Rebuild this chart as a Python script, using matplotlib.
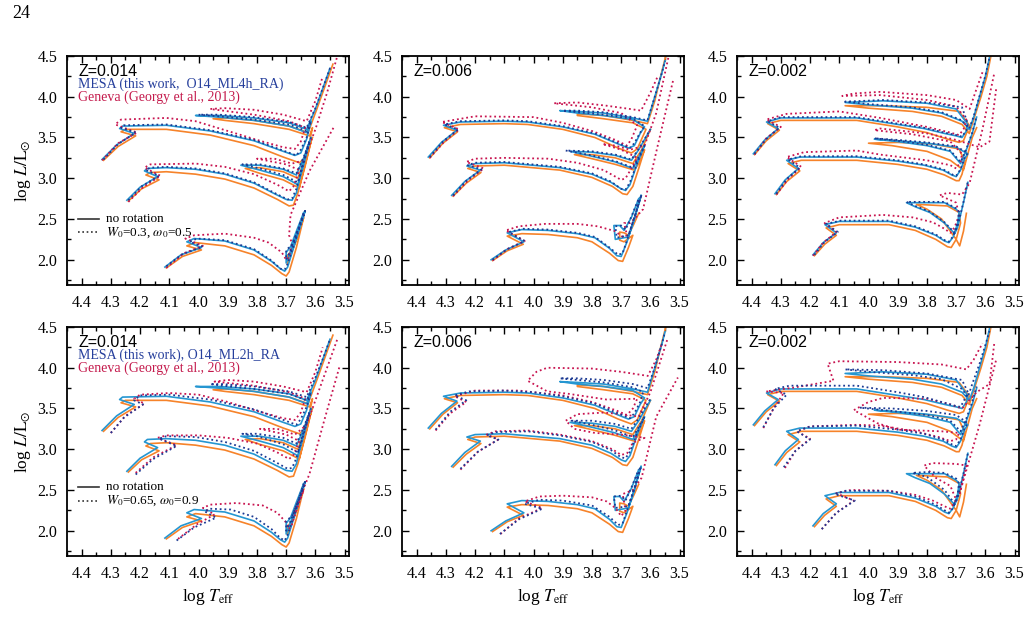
import matplotlib.pyplot as plt
from matplotlib.ticker import MultipleLocator

plt.rcParams['font.family'] = ['Liberation Serif', 'DejaVu Serif']
plt.rcParams['mathtext.fontset'] = 'stix'

# ---------------- tracks: (log Teff, log L) ----------------
# each series holds the 3, 5 and 7 Msun tracks

# Z = 0.014
MESA_Z014 = [
    [(4.115,1.91),(4.06,2.06),(3.99,2.15),(4.04,2.22),(4.015,2.26),(3.91,2.23),(3.81,2.12),(3.75,1.98),(3.72,1.89),(3.705,1.86),(3.695,1.91),(3.67,2.20),(3.635,2.60),(3.66,2.35),(3.685,2.10),(3.70,1.96),(3.70,2.09),(3.685,2.16),(3.665,2.35),(3.64,2.58)],
    [(4.245,2.73),(4.20,2.89),(4.14,3.02),(4.185,3.09),(4.175,3.12),(4.11,3.13),(4.01,3.11),(3.91,3.05),(3.81,2.94),(3.74,2.81),(3.70,2.74),(3.68,2.73),(3.665,2.82),(3.645,3.15),(3.62,3.45),(3.645,3.10),(3.66,2.92),(3.71,3.02),(3.79,3.10),(3.855,3.16),(3.79,3.16),(3.71,3.11),(3.665,3.04),(3.64,3.25),(3.615,3.50)],
    [(4.33,3.23),(4.28,3.41),(4.22,3.55),(4.27,3.61),(4.26,3.64),(4.11,3.65),(3.96,3.58),(3.81,3.46),(3.71,3.33),(3.67,3.28),(3.65,3.31),(3.63,3.48),(3.615,3.70),(3.63,3.56),(3.69,3.64),(3.81,3.71),(3.93,3.75),(4.01,3.77),(3.93,3.77),(3.81,3.74),(3.69,3.68),(3.63,3.60),(3.60,3.85),(3.57,4.15),(3.55,4.35)],
]
GEN_Z014 = [
    [(4.11,1.90),(4.055,2.04),(3.99,2.12),(4.04,2.17),(4.01,2.21),(3.91,2.17),(3.81,2.06),(3.75,1.93),(3.715,1.83),(3.70,1.80),(3.69,1.85),(3.665,2.15),(3.64,2.52),(3.66,2.30),(3.685,2.05),(3.695,1.95),(3.695,2.05),(3.675,2.15),(3.655,2.35),(3.64,2.55)],
    [(4.24,2.72),(4.195,2.87),(4.135,2.98),(4.18,3.04),(4.165,3.07),(4.11,3.08),(4.01,3.05),(3.91,2.99),(3.81,2.88),(3.73,2.74),(3.69,2.66),(3.675,2.67),(3.66,2.82),(3.635,3.15),(3.615,3.45),(3.64,3.10),(3.655,2.88),(3.71,2.98),(3.79,3.06),(3.84,3.12),(3.79,3.13),(3.71,3.08),(3.66,3.00),(3.635,3.25),(3.61,3.50)],
    [(4.325,3.22),(4.275,3.39),(4.215,3.52),(4.265,3.57),(4.25,3.60),(4.11,3.60),(3.96,3.53),(3.81,3.40),(3.71,3.26),(3.655,3.19),(3.635,3.25),(3.62,3.45),(3.61,3.62),(3.62,3.52),(3.69,3.60),(3.81,3.67),(3.91,3.71),(3.95,3.73),(3.91,3.74),(3.81,3.71),(3.69,3.64),(3.625,3.56),(3.595,3.85),(3.565,4.15),(3.54,4.40)],
]
MESA_ROT_Z014_A = [
    [(4.11,1.92),(4.055,2.07),(3.985,2.16),(4.03,2.22),(4.005,2.26),(3.91,2.24),(3.81,2.13),(3.75,1.99),(3.72,1.89),(3.705,1.88),(3.695,1.95),(3.67,2.22),(3.635,2.60),(3.66,2.36),(3.685,2.12),(3.70,2.00),(3.70,2.12),(3.68,2.18),(3.66,2.36),(3.64,2.58)],
    [(4.24,2.73),(4.195,2.90),(4.135,3.03),(4.18,3.10),(4.165,3.13),(4.11,3.14),(4.01,3.12),(3.91,3.06),(3.81,2.95),(3.74,2.82),(3.695,2.74),(3.68,2.75),(3.665,2.87),(3.645,3.16),(3.62,3.45),(3.645,3.12),(3.66,2.95),(3.71,3.04),(3.79,3.12),(3.85,3.17),(3.79,3.17),(3.71,3.12),(3.665,3.06),(3.64,3.26),(3.615,3.50)],
    [(4.325,3.23),(4.275,3.42),(4.215,3.56),(4.265,3.62),(4.255,3.65),(4.11,3.66),(3.96,3.59),(3.81,3.47),(3.71,3.34),(3.665,3.28),(3.65,3.35),(3.63,3.50),(3.615,3.70),(3.63,3.58),(3.69,3.66),(3.81,3.72),(3.93,3.76),(4.00,3.78),(3.93,3.78),(3.81,3.75),(3.69,3.69),(3.63,3.62),(3.60,3.86),(3.57,4.15),(3.55,4.35)],
]
GEN_ROT_Z014_A = [
    [(4.11,1.90),(4.05,2.08),(3.985,2.17),(4.045,2.26),(4.015,2.30),(3.91,2.32),(3.81,2.27),(3.76,2.21),(3.715,2.09),(3.70,2.00),(3.69,2.03),(3.68,2.20),(3.69,2.30),(3.685,2.55),(3.62,3.09),(3.535,3.64)],
    [(4.24,2.71),(4.19,2.89),(4.13,3.03),(4.185,3.13),(4.165,3.17),(4.01,3.18),(3.91,3.14),(3.81,3.05),(3.73,2.92),(3.69,2.84),(3.675,2.90),(3.655,3.10),(3.70,3.17),(3.80,3.24),(3.74,3.24),(3.68,3.18),(3.64,3.22),(3.60,3.60),(3.56,4.05),(3.525,4.50)],
    [(4.33,3.22),(4.275,3.43),(4.21,3.56),(4.285,3.66),(4.265,3.72),(4.11,3.74),(4.01,3.70),(3.90,3.58),(3.79,3.46),(3.71,3.38),(3.67,3.36),(3.65,3.45),(3.635,3.62),(3.69,3.70),(3.81,3.78),(3.96,3.85),(3.91,3.86),(3.81,3.84),(3.71,3.78),(3.63,3.70),(3.60,3.95),(3.575,4.25)],
]
MESA_ROT_Z014_B = [
    [(4.075,1.88),(4.015,2.04),(3.94,2.16),(3.98,2.24),(3.96,2.27),(3.89,2.26),(3.81,2.17),(3.75,2.02),(3.72,1.91),(3.705,1.88),(3.695,1.95),(3.67,2.22),(3.635,2.60),(3.66,2.36),(3.685,2.12),(3.70,2.00),(3.70,2.12),(3.68,2.18),(3.66,2.36),(3.64,2.58)],
    [(4.215,2.69),(4.155,2.88),(4.075,3.04),(4.135,3.13),(4.11,3.16),(4.01,3.15),(3.91,3.09),(3.81,2.98),(3.74,2.85),(3.695,2.76),(3.68,2.77),(3.665,2.89),(3.645,3.16),(3.62,3.45),(3.645,3.12),(3.66,2.96),(3.71,3.06),(3.80,3.16),(3.85,3.19),(3.80,3.19),(3.71,3.14),(3.665,3.07),(3.64,3.27),(3.615,3.50)],
    [(4.30,3.20),(4.255,3.39),(4.19,3.55),(4.22,3.60),(4.20,3.66),(4.10,3.67),(3.96,3.61),(3.81,3.49),(3.71,3.36),(3.665,3.30),(3.65,3.37),(3.63,3.52),(3.615,3.70),(3.63,3.60),(3.69,3.68),(3.81,3.74),(3.92,3.78),(3.96,3.80),(3.92,3.80),(3.81,3.77),(3.69,3.71),(3.63,3.64),(3.60,3.88),(3.57,4.15),(3.55,4.35)],
]
GEN_ROT_Z014_B = [
    [(4.07,1.90),(4.005,2.08),(3.945,2.20),(3.985,2.28),(3.96,2.32),(3.87,2.34),(3.78,2.31),(3.73,2.22),(3.70,2.10),(3.69,2.02),(3.68,2.08),(3.665,2.25),(3.64,2.50),(3.66,2.35),(3.675,2.20),(3.62,2.70),(3.57,3.35),(3.517,4.02)],
    [(4.215,2.71),(4.155,2.90),(4.075,3.05),(4.14,3.14),(4.11,3.17),(4.00,3.17),(3.90,3.14),(3.80,3.07),(3.73,2.96),(3.69,2.88),(3.675,2.93),(3.655,3.10),(3.70,3.18),(3.79,3.25),(3.73,3.25),(3.67,3.18),(3.63,3.30),(3.58,3.80),(3.525,4.35)],
    [(4.30,3.20),(4.25,3.41),(4.185,3.56),(4.22,3.62),(4.20,3.67),(4.10,3.69),(4.00,3.67),(3.90,3.58),(3.79,3.46),(3.71,3.38),(3.67,3.36),(3.65,3.45),(3.635,3.62),(3.69,3.70),(3.81,3.78),(3.945,3.83),(3.90,3.85),(3.81,3.83),(3.71,3.77),(3.63,3.70),(3.60,3.95),(3.575,4.25)],
]

# Z = 0.006
MESA_Z006 = [
    [(4.145,2.00),(4.095,2.12),(4.033,2.22),(4.09,2.33),(4.04,2.37),(3.95,2.36),(3.85,2.32),(3.79,2.27),(3.74,2.14),(3.715,2.05),(3.70,2.04),(3.68,2.22),(3.655,2.50),(3.632,2.79),(3.655,2.50),(3.675,2.28),(3.72,2.25),(3.725,2.42),(3.705,2.42),(3.69,2.36),(3.665,2.52),(3.64,2.75)],
    [(4.28,2.79),(4.235,2.96),(4.182,3.10),(4.228,3.15),(4.20,3.18),(4.10,3.19),(3.91,3.13),(3.80,3.05),(3.735,2.95),(3.70,2.87),(3.685,2.85),(3.67,2.92),(3.645,3.18),(3.62,3.40),(3.645,3.22),(3.66,3.12),(3.72,3.20),(3.80,3.27),(3.875,3.33),(3.80,3.32),(3.72,3.28),(3.665,3.22),(3.64,3.35),(3.60,3.60)],
    [(4.36,3.26),(4.315,3.44),(4.262,3.59),(4.308,3.65),(4.25,3.69),(4.10,3.70),(4.02,3.69),(3.90,3.63),(3.79,3.54),(3.71,3.42),(3.675,3.37),(3.655,3.40),(3.635,3.55),(3.62,3.63),(3.66,3.72),(3.76,3.77),(3.85,3.80),(3.91,3.83),(3.85,3.82),(3.76,3.80),(3.66,3.74),(3.61,3.70),(3.585,4.00),(3.56,4.30),(3.55,4.44)],
]
GEN_Z006 = [
    [(4.14,1.99),(4.09,2.11),(4.035,2.19),(4.09,2.29),(4.04,2.32),(3.95,2.31),(3.85,2.27),(3.80,2.22),(3.74,2.08),(3.71,1.99),(3.695,1.98),(3.675,2.15),(3.66,2.30),(3.69,2.22),(3.705,2.24),(3.705,2.34),(3.69,2.33),(3.675,2.30),(3.655,2.45),(3.64,2.57)],
    [(4.275,2.78),(4.23,2.94),(4.18,3.07),(4.225,3.12),(4.20,3.15),(4.10,3.16),(3.91,3.10),(3.80,3.01),(3.73,2.90),(3.695,2.81),(3.68,2.80),(3.66,2.90),(3.64,3.12),(3.62,3.35),(3.64,3.18),(3.655,3.10),(3.72,3.17),(3.80,3.24),(3.86,3.29),(3.80,3.29),(3.72,3.25),(3.66,3.18),(3.63,3.35),(3.60,3.60)],
    [(4.355,3.25),(4.31,3.43),(4.26,3.57),(4.305,3.62),(4.25,3.66),(4.10,3.67),(4.02,3.66),(3.90,3.60),(3.79,3.50),(3.71,3.37),(3.665,3.31),(3.645,3.36),(3.625,3.52),(3.615,3.60),(3.66,3.68),(3.76,3.73),(3.85,3.77),(3.85,3.79),(3.76,3.77),(3.66,3.71),(3.61,3.67),(3.585,3.95),(3.565,4.25),(3.546,4.52)],
]
MESA_ROT_Z006_A = [
    [(4.14,2.00),(4.09,2.13),(4.03,2.23),(4.085,2.34),(4.035,2.38),(3.95,2.37),(3.85,2.33),(3.79,2.28),(3.74,2.15),(3.71,2.06),(3.695,2.08),(3.68,2.24),(3.655,2.52),(3.63,2.80),(3.655,2.52),(3.675,2.30),(3.715,2.27),(3.72,2.41),(3.70,2.42),(3.685,2.37),(3.665,2.53),(3.64,2.75)],
    [(4.275,2.79),(4.23,2.97),(4.178,3.11),(4.225,3.16),(4.20,3.19),(4.10,3.20),(3.91,3.14),(3.80,3.06),(3.735,2.96),(3.70,2.87),(3.685,2.86),(3.67,2.95),(3.645,3.19),(3.62,3.40),(3.645,3.23),(3.66,3.13),(3.72,3.21),(3.80,3.28),(3.89,3.34),(3.80,3.33),(3.72,3.29),(3.665,3.23),(3.64,3.36),(3.60,3.60)],
    [(4.355,3.26),(4.31,3.45),(4.258,3.60),(4.305,3.66),(4.25,3.70),(4.10,3.71),(4.02,3.70),(3.90,3.64),(3.79,3.55),(3.71,3.43),(3.67,3.37),(3.655,3.43),(3.635,3.56),(3.62,3.64),(3.66,3.73),(3.76,3.78),(3.85,3.81),(3.90,3.83),(3.85,3.83),(3.76,3.81),(3.66,3.75),(3.61,3.71),(3.585,4.00),(3.56,4.30),(3.55,4.44)],
]
GEN_ROT_Z006_A = [
    [(4.14,1.99),(4.09,2.13),(4.03,2.23),(4.095,2.36),(4.05,2.41),(3.96,2.44),(3.85,2.44),(3.78,2.41),(3.72,2.35),(3.695,2.28),(3.68,2.30),(3.69,2.45),(3.67,2.45),(3.655,2.50),(3.625,2.62),(3.575,3.40),(3.521,4.22)],
    [(4.275,2.78),(4.225,2.97),(4.17,3.12),(4.23,3.20),(4.20,3.24),(4.10,3.25),(3.95,3.24),(3.85,3.19),(3.76,3.10),(3.70,2.98),(3.685,3.00),(3.665,3.12),(3.645,3.25),(3.70,3.35),(3.764,3.42),(3.72,3.40),(3.67,3.35),(3.62,3.40),(3.58,3.80),(3.538,4.49)],
    [(4.355,3.25),(4.305,3.45),(4.255,3.60),(4.314,3.69),(4.20,3.76),(4.00,3.75),(3.90,3.68),(3.80,3.58),(3.72,3.47),(3.68,3.40),(3.665,3.48),(3.645,3.65),(3.70,3.80),(3.80,3.87),(3.93,3.92),(3.85,3.93),(3.75,3.89),(3.67,3.85),(3.632,3.83),(3.60,4.05),(3.575,4.25)],
]
MESA_ROT_Z006_B = [
    [(4.115,1.96),(4.05,2.14),(3.97,2.27),(4.03,2.33),(3.98,2.38),(3.90,2.37),(3.80,2.31),(3.74,2.17),(3.71,2.07),(3.695,2.09),(3.68,2.25),(3.655,2.52),(3.632,2.79),(3.655,2.52),(3.675,2.30),(3.72,2.28),(3.725,2.42),(3.70,2.43),(3.685,2.37),(3.665,2.53),(3.64,2.75)],
    [(4.25,2.76),(4.19,2.97),(4.12,3.12),(4.16,3.17),(4.13,3.21),(4.02,3.22),(3.91,3.17),(3.80,3.09),(3.735,2.99),(3.70,2.90),(3.685,2.89),(3.67,2.97),(3.645,3.20),(3.62,3.40),(3.645,3.24),(3.66,3.15),(3.72,3.23),(3.80,3.30),(3.87,3.35),(3.80,3.35),(3.72,3.31),(3.665,3.25),(3.64,3.38),(3.60,3.62)],
    [(4.335,3.24),(4.285,3.46),(4.23,3.60),(4.27,3.66),(4.22,3.71),(4.10,3.72),(4.00,3.70),(3.90,3.65),(3.79,3.56),(3.71,3.44),(3.67,3.38),(3.655,3.44),(3.635,3.58),(3.625,3.70),(3.66,3.76),(3.76,3.82),(3.85,3.85),(3.91,3.87),(3.85,3.87),(3.76,3.85),(3.66,3.80),(3.61,3.75),(3.585,4.00),(3.56,4.30),(3.55,4.44)],
]
GEN_ROT_Z006_B = [
    [(4.113,1.96),(4.05,2.15),(3.97,2.28),(4.03,2.36),(3.98,2.42),(3.90,2.43),(3.80,2.41),(3.75,2.36),(3.72,2.28),(3.70,2.18),(3.685,2.25),(3.695,2.45),(3.68,2.47),(3.66,2.50),(3.63,2.65),(3.58,3.40),(3.506,3.88)],
    [(4.25,2.75),(4.19,2.97),(4.12,3.12),(4.16,3.18),(4.13,3.22),(4.02,3.23),(3.91,3.18),(3.80,3.10),(3.73,3.00),(3.70,2.93),(3.68,2.95),(3.66,3.08),(3.62,3.14),(3.70,3.18),(3.79,3.20),(3.86,3.25),(3.89,3.35),(3.85,3.43),(3.76,3.45),(3.70,3.43),(3.64,3.40),(3.60,3.70),(3.54,4.37)],
    [(4.335,3.23),(4.285,3.44),(4.23,3.58),(4.27,3.65),(4.20,3.72),(4.05,3.72),(3.90,3.66),(3.80,3.58),(3.72,3.48),(3.68,3.42),(3.66,3.50),(3.645,3.62),(3.75,3.61),(3.88,3.68),(3.953,3.71),(4.02,3.84),(3.99,3.95),(3.953,4.00),(3.80,3.99),(3.70,3.95),(3.609,3.90),(3.58,4.10),(3.56,4.30)],
]

# Z = 0.002
MESA_Z002 = [
    [(4.19,2.06),(4.155,2.21),(4.11,2.33),(4.149,2.43),(4.10,2.47),(3.93,2.47),(3.84,2.40),(3.77,2.30),(3.74,2.23),(3.725,2.21),(3.71,2.28),(3.695,2.45),(3.69,2.58),(3.70,2.62),(3.74,2.70),(3.80,2.70),(3.87,2.70),(3.84,2.65),(3.79,2.58),(3.74,2.45),(3.705,2.32),(3.695,2.40),(3.675,2.70),(3.66,2.95)],
    [(4.32,2.81),(4.285,2.98),(4.24,3.12),(4.28,3.22),(4.235,3.26),(4.04,3.26),(3.90,3.21),(3.81,3.16),(3.745,3.10),(3.715,3.04),(3.70,3.02),(3.685,3.10),(3.67,3.25),(3.66,3.30),(3.70,3.38),(3.80,3.43),(3.90,3.46),(3.98,3.48),(3.90,3.45),(3.80,3.40),(3.72,3.33),(3.685,3.18),(3.665,3.35),(3.645,3.55),(3.63,3.75)],
    [(4.394,3.30),(4.355,3.47),(4.309,3.61),(4.349,3.69),(4.30,3.74),(4.04,3.74),(3.90,3.66),(3.81,3.61),(3.74,3.55),(3.70,3.52),(3.68,3.50),(3.665,3.58),(3.66,3.66),(3.70,3.85),(3.80,3.92),(3.95,3.95),(4.08,3.93),(4.00,3.90),(3.85,3.86),(3.75,3.80),(3.68,3.70),(3.655,3.60),(3.64,3.75),(3.62,4.00),(3.60,4.25),(3.586,4.48)],
]
GEN_Z002 = [
    [(4.185,2.05),(4.15,2.19),(4.11,2.30),(4.145,2.39),(4.10,2.43),(3.93,2.43),(3.84,2.36),(3.77,2.25),(3.73,2.16),(3.717,2.15),(3.70,2.25),(3.685,2.45),(3.69,2.58),(3.73,2.66),(3.836,2.68),(3.80,2.62),(3.75,2.50),(3.70,2.25),(3.688,2.17),(3.675,2.35),(3.665,2.57)],
    [(4.315,2.80),(4.28,2.96),(4.235,3.09),(4.275,3.18),(4.23,3.22),(4.04,3.22),(3.90,3.17),(3.80,3.11),(3.74,3.04),(3.70,2.97),(3.69,2.97),(3.68,3.05),(3.67,3.20),(3.69,3.36),(3.78,3.42),(3.90,3.44),(4.00,3.43),(3.92,3.40),(3.80,3.33),(3.72,3.22),(3.675,3.10),(3.66,3.30),(3.645,3.50),(3.63,3.62)],
    [(4.39,3.29),(4.35,3.46),(4.305,3.59),(4.345,3.67),(4.30,3.71),(4.04,3.71),(3.90,3.63),(3.80,3.56),(3.73,3.48),(3.69,3.44),(3.675,3.46),(3.665,3.55),(3.655,3.65),(3.69,3.82),(3.80,3.87),(3.95,3.89),(4.08,3.89),(4.00,3.86),(3.85,3.82),(3.75,3.76),(3.68,3.66),(3.655,3.55),(3.64,3.72),(3.615,4.00),(3.595,4.25),(3.58,4.52)],
]
MESA_ROT_Z002_A = [
    [(4.185,2.06),(4.15,2.22),(4.105,2.34),(4.145,2.44),(4.095,2.48),(3.93,2.48),(3.84,2.41),(3.77,2.31),(3.735,2.23),(3.725,2.22),(3.71,2.29),(3.695,2.46),(3.69,2.59),(3.70,2.63),(3.74,2.71),(3.80,2.71),(3.87,2.71),(3.84,2.66),(3.79,2.59),(3.74,2.46),(3.705,2.33),(3.695,2.41),(3.675,2.71),(3.66,2.96)],
    [(4.315,2.81),(4.28,2.99),(4.235,3.13),(4.275,3.23),(4.23,3.27),(4.04,3.27),(3.90,3.22),(3.81,3.17),(3.745,3.11),(3.71,3.04),(3.70,3.03),(3.685,3.11),(3.67,3.26),(3.66,3.31),(3.70,3.39),(3.80,3.44),(3.90,3.47),(3.98,3.49),(3.90,3.46),(3.80,3.41),(3.72,3.34),(3.685,3.20),(3.665,3.36),(3.645,3.56),(3.63,3.76)],
    [(4.39,3.30),(4.35,3.48),(4.305,3.62),(4.345,3.70),(4.30,3.75),(4.04,3.75),(3.90,3.67),(3.81,3.62),(3.74,3.56),(3.70,3.53),(3.68,3.51),(3.665,3.59),(3.66,3.67),(3.68,3.87),(3.80,3.93),(3.95,3.96),(4.08,3.94),(4.00,3.91),(3.85,3.87),(3.75,3.81),(3.68,3.71),(3.655,3.61),(3.64,3.76),(3.62,4.01),(3.60,4.26),(3.586,4.48)],
]
GEN_ROT_Z002_A = [
    [(4.19,2.05),(4.155,2.21),(4.11,2.34),(4.15,2.45),(4.10,2.52),(3.95,2.55),(3.85,2.52),(3.78,2.46),(3.74,2.38),(3.72,2.33),(3.705,2.40),(3.69,2.55),(3.70,2.70),(3.757,2.79),(3.73,2.82),(3.68,2.80),(3.654,2.94),(3.61,3.60),(3.569,4.30)],
    [(4.315,2.80),(4.275,2.99),(4.23,3.14),(4.28,3.26),(4.22,3.32),(4.04,3.34),(3.96,3.29),(3.80,3.22),(3.72,3.16),(3.70,3.12),(3.685,3.20),(3.68,3.30),(3.72,3.45),(3.85,3.54),(3.98,3.59),(3.96,3.61),(3.80,3.55),(3.70,3.47),(3.62,3.38),(3.586,3.45),(3.563,4.10)],
    [(4.39,3.29),(4.35,3.49),(4.30,3.63),(4.35,3.72),(4.28,3.79),(4.10,3.82),(3.96,3.74),(3.80,3.63),(3.72,3.56),(3.69,3.53),(3.675,3.60),(3.665,3.72),(3.70,3.88),(3.80,3.96),(3.96,4.02),(4.09,4.01),(4.05,4.04),(3.96,4.06),(3.80,4.02),(3.70,3.96),(3.654,3.85),(3.63,4.10),(3.61,4.30)],
]
MESA_ROT_Z002_B = [
    [(4.16,2.02),(4.11,2.22),(4.047,2.37),(4.115,2.45),(4.08,2.49),(3.93,2.49),(3.84,2.42),(3.77,2.32),(3.735,2.24),(3.725,2.22),(3.71,2.28),(3.695,2.45),(3.69,2.58),(3.70,2.64),(3.74,2.71),(3.80,2.72),(3.85,2.71),(3.80,2.66),(3.74,2.50),(3.705,2.33),(3.695,2.40),(3.675,2.70),(3.66,2.95)],
    [(4.29,2.78),(4.25,2.98),(4.20,3.12),(4.245,3.22),(4.20,3.28),(4.04,3.29),(3.90,3.24),(3.81,3.19),(3.745,3.12),(3.71,3.05),(3.70,3.04),(3.685,3.12),(3.67,3.27),(3.66,3.32),(3.70,3.42),(3.80,3.47),(3.92,3.50),(4.03,3.51),(3.92,3.47),(3.80,3.42),(3.72,3.35),(3.685,3.22),(3.665,3.38),(3.645,3.58),(3.63,3.77)],
    [(4.36,3.27),(4.325,3.50),(4.28,3.67),(4.32,3.74),(4.27,3.78),(4.04,3.78),(3.90,3.70),(3.81,3.64),(3.74,3.57),(3.70,3.53),(3.685,3.52),(3.67,3.62),(3.66,3.70),(3.68,3.85),(3.80,3.93),(3.95,3.97),(4.08,3.98),(4.00,3.95),(3.85,3.91),(3.75,3.86),(3.68,3.74),(3.66,3.64),(3.645,3.80),(3.62,4.05),(3.60,4.28),(3.586,4.45)],
]
GEN_ROT_Z002_B = [
    [(4.16,2.02),(4.11,2.22),(4.05,2.37),(4.11,2.46),(4.06,2.50),(3.93,2.49),(3.84,2.44),(3.78,2.37),(3.74,2.30),(3.72,2.27),(3.70,2.38),(3.72,2.55),(3.77,2.65),(3.81,2.80),(3.78,2.83),(3.70,2.82),(3.665,2.80),(3.688,2.46),(3.62,3.30),(3.563,4.10)],
    [(4.286,2.77),(4.25,2.98),(4.20,3.13),(4.245,3.22),(4.20,3.28),(4.04,3.30),(3.96,3.29),(3.84,3.22),(3.76,3.15),(3.72,3.10),(3.70,3.12),(3.69,3.20),(3.75,3.22),(3.90,3.24),(3.97,3.32),(4.05,3.48),(4.00,3.58),(3.95,3.63),(3.80,3.62),(3.72,3.55),(3.68,3.50),(3.63,3.70),(3.586,3.80),(3.569,4.32)],
    [(4.36,3.26),(4.325,3.50),(4.29,3.69),(4.35,3.71),(4.25,3.76),(4.12,3.84),(4.14,4.05),(4.10,4.08),(3.90,4.07),(3.75,4.04),(3.665,3.98),(3.64,4.10),(3.61,4.30)],
]

PANEL_Z = ['Z=0.014', 'Z=0.006', 'Z=0.002']
MESA_LABEL = ['MESA (this work,  O14_ML4h_RA)', 'MESA (this work), O14_ML2h_RA']
GENEVA_LABEL = 'Geneva (Georgy et al., 2013)'
ROT_LABEL = [r'$W_0$=0.3, $\omega_0$=0.5', r'$W_0$=0.65, $\omega_0$=0.9']

ROWS = [
    [(MESA_Z014, MESA_ROT_Z014_A, GEN_Z014, GEN_ROT_Z014_A),
     (MESA_Z006, MESA_ROT_Z006_A, GEN_Z006, GEN_ROT_Z006_A),
     (MESA_Z002, MESA_ROT_Z002_A, GEN_Z002, GEN_ROT_Z002_A)],
    [(MESA_Z014, MESA_ROT_Z014_B, GEN_Z014, GEN_ROT_Z014_B),
     (MESA_Z006, MESA_ROT_Z006_B, GEN_Z006, GEN_ROT_Z006_B),
     (MESA_Z002, MESA_ROT_Z002_B, GEN_Z002, GEN_ROT_Z002_B)],
]

C_MESA = '#2596d1'
C_MESA_ROT = '#1c3a93'
C_GEN = '#f6832a'
C_GEN_ROT = '#c81450'
DOT = (0, (1.0, 1.6))

W, H = 1034, 627
fig = plt.figure(figsize=(W / 100, H / 100), dpi=100)
fig.text(12 / W, 1 - 14 / H, '24', fontsize=13, va='center', ha='left')

col_left = [67, 402, 737]
row_top = [56, 327]
aw, ah = 282, 229


def draw(ax, tracks, color, ls, lw):
    for tr in tracks:
        ax.plot([p[0] for p in tr], [p[1] for p in tr], color=color, ls=ls, lw=lw,
                solid_joinstyle='round')


for r in range(2):
    for c in range(3):
        x0 = col_left[c] / W
        y0 = 1 - (row_top[r] + ah) / H
        ax = fig.add_axes([x0, y0, aw / W, ah / H])
        mesa, mesa_rot, gen, gen_rot = ROWS[r][c]
        draw(ax, gen, C_GEN, '-', 1.2)
        draw(ax, mesa, C_MESA, '-', 1.2)
        draw(ax, gen_rot, C_GEN_ROT, DOT, 1.3)
        draw(ax, mesa_rot, C_MESA_ROT, DOT, 1.3)

        ax.set_xlim(4.45, 3.485)
        ax.set_ylim(1.69, 4.5)
        ax.xaxis.set_major_locator(MultipleLocator(0.1))
        ax.xaxis.set_minor_locator(MultipleLocator(0.05))
        ax.yaxis.set_minor_locator(MultipleLocator(0.25))
        ax.set_yticks([2.0, 2.5, 3.0, 3.5, 4.0, 4.5])
        ax.tick_params(which='both', direction='in', top=True, right=True, labelsize=11.5, width=1.0)
        ax.tick_params(which='major', length=5, pad=7)
        ax.tick_params(which='minor', length=3)
        for s in ax.spines.values():
            s.set_linewidth(1.3)

        ax.text(0.04, 0.932, PANEL_Z[c], transform=ax.transAxes, fontsize=11.5,
                family=['Liberation Sans', 'DejaVu Sans'], va='center')

        if c == 0:
            ax.set_ylabel(r'log $L/\mathrm{L}_{\odot}$', fontsize=12.5, labelpad=3)
            ax.text(0.04, 0.878, MESA_LABEL[r], transform=ax.transAxes, fontsize=10,
                    color='#263f9c', va='center')
            ax.text(0.04, 0.822, GENEVA_LABEL, transform=ax.transAxes, fontsize=10,
                    color='#c41a4c', va='center')
            ly = 0.29 if r == 0 else 0.30
            ax.plot([0.04, 0.115], [ly, ly], color='#333333', lw=1.2, transform=ax.transAxes)
            ax.plot([0.04, 0.115], [ly - 0.06, ly - 0.06], color='#333333', lw=1.2, ls=DOT,
                    transform=ax.transAxes)
            ax.text(0.14, ly, 'no rotation', transform=ax.transAxes, fontsize=9.5, va='center')
            ax.text(0.14, ly - 0.06, ROT_LABEL[r], transform=ax.transAxes, fontsize=9.5,
                    va='center')
        if r == 1:
            ax.set_xlabel(r'log $T_{\rm eff}$', fontsize=12.5, labelpad=4)

fig.savefig('out.png', dpi=100)
